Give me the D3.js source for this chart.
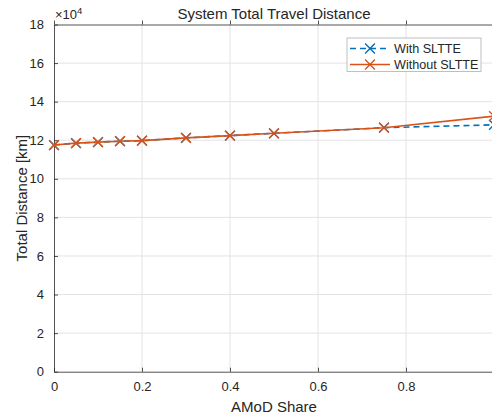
<!DOCTYPE html>
<html>
<head>
<meta charset="utf-8">
<script src="https://cdn.jsdelivr.net/npm/d3@7"></script>
<style>
  body { margin: 0; background: #fff; }
  svg text { font-family: 'Liberation Sans', Arial, sans-serif; fill: #262626; }
</style>
</head>
<body>
<svg id="chart" width="492" height="417"></svg>
<script>
// AMoD share on the x axis
const shares = [0, 0.05, 0.1, 0.15, 0.2, 0.3, 0.4, 0.5, 0.75, 1.0]
// total distance in units of 1e4 km
const withSltte = [11.75, 11.85, 11.9, 11.95, 11.98, 12.12, 12.24, 12.36, 12.65, 12.8]
const withoutSltte = [11.75, 11.85, 11.9, 11.95, 11.98, 12.12, 12.24, 12.36, 12.65, 13.25]
const xTicks = [0, 0.2, 0.4, 0.6, 0.8]
const yTicks = [0, 2, 4, 6, 8, 10, 12, 14, 16, 18]

const colors = { blue: '#0072BD', orange: '#D95319', axis: '#262626', grid: '#e3e3e3' }

const margin = { top: 24.5, right: -2, bottom: 45.3, left: 54 }
const W = 492, H = 417
const width = W - margin.left - margin.right
const height = H - margin.top - margin.bottom

const x = d3.scaleLinear().domain([0, 1]).range([0, width])
const y = d3.scaleLinear().domain([0, 18]).range([height, 0])

const svg = d3.select('#chart')
const chart = svg.append('g')
  .attr('transform', `translate(${margin.left},${margin.top})`)

// grid
chart.append('g').selectAll('line').data(xTicks.filter(d => d > 0))
  .enter().append('line')
  .attr('x1', d => x(d)).attr('x2', d => x(d))
  .attr('y1', 0).attr('y2', height)
  .attr('stroke', colors.grid)
chart.append('g').selectAll('line').data(yTicks.filter(d => d > 0 && d < 18))
  .enter().append('line')
  .attr('x1', 0).attr('x2', width)
  .attr('y1', d => y(d)).attr('y2', d => y(d))
  .attr('stroke', colors.grid)

// axes (ticks inward, matlab style)
const xAxis = chart.append('g')
  .attr('transform', `translate(0,${height})`)
  .call(d3.axisBottom(x).tickValues(xTicks).tickSizeInner(-4).tickSizeOuter(0).tickPadding(10)
    .tickFormat(d => d === 0 ? '0' : d3.format('.1f')(d)))
const yAxis = chart.append('g')
  .call(d3.axisLeft(y).tickValues(yTicks).tickSizeInner(-4).tickSizeOuter(0).tickPadding(10))
const topAxis = chart.append('g')
  .call(d3.axisTop(x).tickValues(xTicks).tickSizeInner(4).tickSizeOuter(0).tickFormat(''))

for (const a of [xAxis, yAxis, topAxis]) {
  a.selectAll('path, line').attr('stroke', colors.axis).attr('stroke-width', 0.8)
  a.selectAll('text').attr('font-size', 13).attr('fill', colors.axis)
    .style('font-family', "'Liberation Sans', Arial, sans-serif")
}
xAxis.selectAll('text').attr('dy', '0.71em')

// lines
const line = d3.line().x((d, i) => x(shares[i])).y(d => y(d))
chart.append('clipPath').attr('id', 'clip')
  .append('rect').attr('x', -6).attr('y', -6).attr('width', width + 12).attr('height', height + 12)

const marks = chart.append('g').attr('clip-path', 'url(#clip)')

function drawSeries (vals, color, dash) {
  marks.append('path').datum(vals)
    .attr('fill', 'none')
    .attr('stroke', color)
    .attr('stroke-width', 1.6)
    .attr('stroke-dasharray', dash)
    .attr('d', line)
  marks.append('g').selectAll('path').data(vals)
    .enter().append('path')
    .attr('transform', (d, i) => `translate(${x(shares[i])},${y(d)})`)
    .attr('d', d3.symbol(d3.symbolTimes, 64)())
    .attr('fill', 'none')
    .attr('stroke', color)
    .attr('stroke-width', 1.4)
}
drawSeries(withSltte, colors.blue, '6,4')
drawSeries(withoutSltte, colors.orange, null)

// exponent label
const expo = chart.append('text').attr('x', 1).attr('y', -6).attr('font-size', 13)
expo.append('tspan').text('\u00d710')
expo.append('tspan').attr('font-size', 9.5).attr('dy', -5).text('4')

// title and labels
svg.append('text')
  .attr('x', margin.left + width / 2).attr('y', 19)
  .attr('text-anchor', 'middle').attr('font-size', 15)
  .text('System Total Travel Distance')
svg.append('text')
  .attr('x', margin.left + width / 2).attr('y', 412)
  .attr('text-anchor', 'middle').attr('font-size', 15)
  .text('AMoD Share')
svg.append('text')
  .attr('transform', `translate(27,${margin.top + height / 2}) rotate(-90)`)
  .attr('text-anchor', 'middle').attr('font-size', 15)
  .text('Total Distance [km]')

// legend
const leg = svg.append('g').attr('transform', 'translate(347,38)')
leg.append('rect').attr('width', 134).attr('height', 33.5)
  .attr('fill', '#fff').attr('stroke', '#b0b0b0').attr('stroke-width', 0.8)
const legItems = [
  { name: 'With SLTTE', color: colors.blue, dash: '6,4' },
  { name: 'Without SLTTE', color: colors.orange, dash: null }
]
legItems.forEach((it, i) => {
  const g = leg.append('g').attr('transform', `translate(0,${10.5 + i * 16})`)
  g.append('line').attr('x1', 3).attr('x2', 43)
    .attr('stroke', it.color).attr('stroke-width', 1.6).attr('stroke-dasharray', it.dash)
  g.append('path').attr('transform', 'translate(23,0)')
    .attr('d', d3.symbol(d3.symbolTimes, 64)())
    .attr('fill', 'none').attr('stroke', it.color).attr('stroke-width', 1.4)
  g.append('text').attr('x', 47).attr('dy', '0.35em').attr('font-size', 12.6).text(it.name)
})
</script>
</body>
</html>
